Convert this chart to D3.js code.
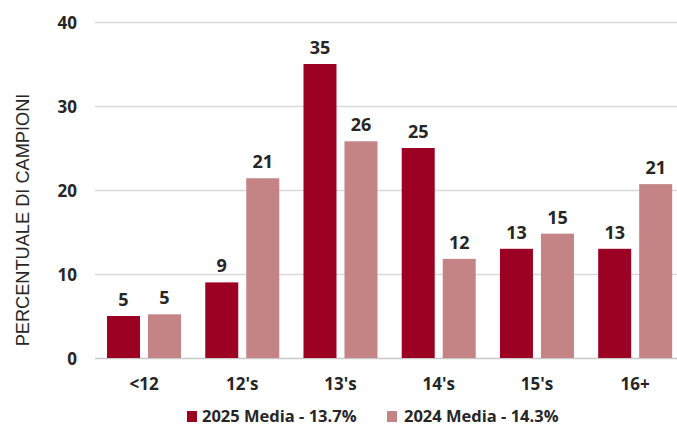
<!DOCTYPE html>
<html>
<head>
<meta charset="utf-8">
<script src="https://cdn.jsdelivr.net/npm/d3@7"></script>
<style>
  html, body { margin: 0; padding: 0; background: #fff; }
  svg { display: block; font-family: "Open Sans", "DejaVu Sans", sans-serif; }
</style>
</head>
<body>
<svg id="chart" width="677" height="426"></svg>
<script>
const categories = ["<12", "12's", "13's", "14's", "15's", "16+"];
const seriesNames = ["2025 Media - 13.7%", "2024 Media - 14.3%"];
const values2025 = [5, 9, 35, 25, 13, 13];
const values2024 = [5.2, 21.4, 25.8, 11.8, 14.8, 20.7];
const yTicks = [0, 10, 20, 30, 40];
const colors = ["#9C0022", "#C48485"];
const yTitle = "PERCENTUALE DI CAMPIONI";

(function () {
const svg = d3.select("#chart");
const W = 677, H = 426;
const mLeft = 95, mBottom = 358, mTop = 22;

const x0 = d3.scaleBand().domain(categories).range([94.9, 684.3]).padding(0);
const x1 = d3.scaleBand().domain(seriesNames)
  .range([12.12, 12.12 + 74]).paddingInner(0.195).paddingOuter(0);
const y = d3.scaleLinear().domain([0, 40]).range([mBottom, mTop]);

// gridlines
const yAxis = d3.axisLeft(y).tickValues(yTicks).tickSize(-(W - mLeft)).tickPadding(18).tickFormat(d3.format("d"));
const gy = svg.append("g").attr("transform", `translate(${mLeft},0)`).call(yAxis);
gy.select(".domain").remove();
gy.selectAll(".tick line").attr("stroke", d => d === 0 ? "#c8c8c8" : "#d9d9d9").attr("stroke-width", 1.5);
gy.selectAll(".tick text")
  .attr("fill", "#262626").attr("font-size", 17).attr("font-weight", "bold")
  .attr("font-family", "'Open Sans', sans-serif")
  .attr("dy", "0.36em");

// bars
const data = categories.map((c, i) => ({cat: c, vals: [values2025[i], values2024[i]]}));
const groups = svg.append("g").selectAll("g").data(data).join("g")
  .attr("transform", d => `translate(${x0(d.cat)},0)`);

groups.selectAll("rect").data(d => d.vals.map((v, k) => ({v, k}))).join("rect")
  .attr("x", d => x1(seriesNames[d.k]))
  .attr("width", x1.bandwidth())
  .attr("y", d => y(d.v))
  .attr("height", d => y(0) - y(d.v))
  .attr("fill", d => colors[d.k]);

groups.selectAll("text.val").data(d => d.vals.map((v, k) => ({v, k}))).join("text")
  .attr("class", "val")
  .attr("x", d => x1(seriesNames[d.k]) + x1.bandwidth() / 2)
  .attr("y", d => y(d.v) - 10)
  .attr("text-anchor", "middle")
  .attr("font-size", 18).attr("font-weight", "bold").attr("fill", "#262626")
  .text(d => Math.round(d.v));

// x axis labels
const xAxis = d3.axisBottom(x0).tickSize(0).tickPadding(0);
const gx = svg.append("g").attr("transform", `translate(0,${mBottom})`).call(xAxis);
gx.select(".domain").remove();
gx.selectAll(".tick text")
  .attr("fill", "#262626").attr("font-size", 17).attr("font-weight", "bold")
  .attr("font-family", "'Open Sans', sans-serif")
  .attr("dy", 0).attr("y", 31.5);

// y title
svg.append("text")
  .attr("transform", "translate(29,220) rotate(-90)")
  .attr("text-anchor", "middle")
  .attr("font-family", "'Liberation Sans', Arial, sans-serif")
  .attr("font-size", 18.2).attr("fill", "#262626")
  .text(yTitle);

// legend
const legendPos = [{sx: 187, tx: 202}, {sx: 387, tx: 404}];
const lg = svg.append("g").selectAll("g").data(seriesNames).join("g");
lg.append("rect")
  .attr("x", (d, i) => legendPos[i].sx).attr("y", 411)
  .attr("width", 10).attr("height", 11)
  .attr("fill", (d, i) => colors[i]);
lg.append("text")
  .attr("x", (d, i) => legendPos[i].tx).attr("y", 422)
  .attr("font-size", 16.5).attr("font-weight", "bold").attr("fill", "#262626")
  .text(d => d);
})();
</script>
</body>
</html>
